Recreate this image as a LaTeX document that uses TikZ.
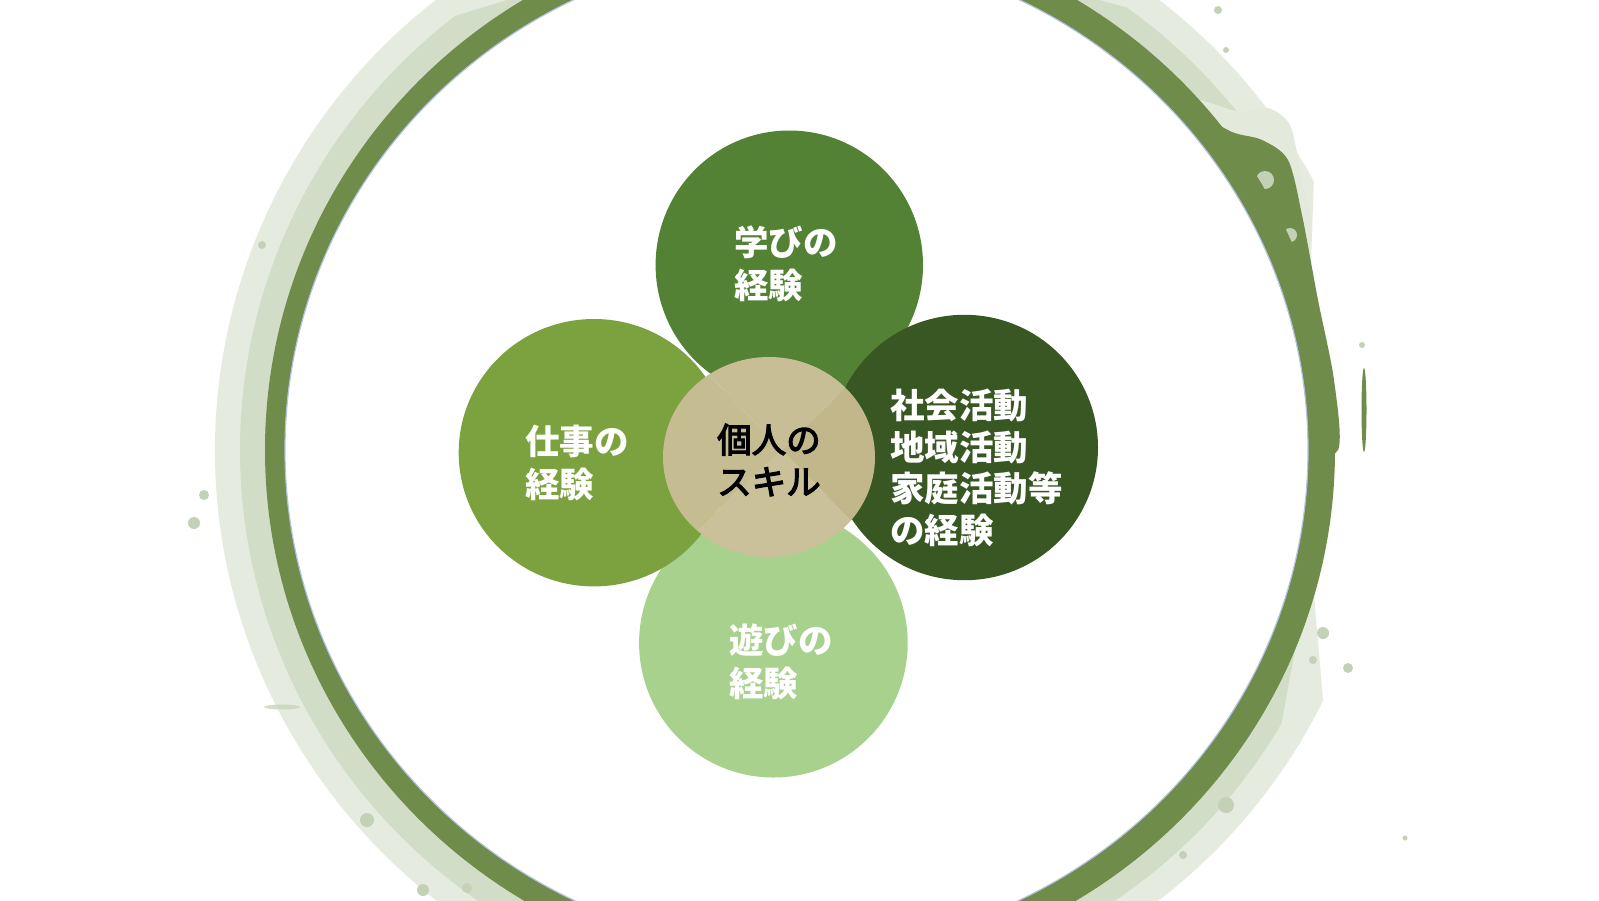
\documentclass[tikz,border=0pt]{standalone}
\usepackage{fontspec}
\newfontfamily\jp{Noto Sans CJK JP}
\newfontfamily\jpm{Noto Sans CJK JP}[FakeBold=3.5]
\usetikzlibrary{shapes.geometric}
\definecolor{ringc}{HTML}{6F8C4B}
\definecolor{washc}{HTML}{C3D1B6}
\definecolor{washl}{HTML}{E3EADC}
\definecolor{rimc}{HTML}{B4C3E3}
\definecolor{ptop}{HTML}{548235}
\definecolor{pleft}{HTML}{7BA23E}
\definecolor{pright}{HTML}{385723}
\definecolor{pbot}{HTML}{A9D18E}
\definecolor{ctop}{HTML}{C8BE95}
\definecolor{cright}{HTML}{C1B78B}
\definecolor{cbot}{HTML}{CAC099}
\definecolor{cleft}{HTML}{C6BC92}
\newcommand\washseg[9]{% style, a1, b1, Rx1, Ry1, a2, b2, Rx2, Ry2
  \fill[#1] (#2:#4pt and #5pt) arc[start angle=#2, end angle=#3, x radius=#4pt, y radius=#5pt]
    -- (#7:#8pt and #9pt) arc[start angle=#7, end angle=#6, x radius=#8pt, y radius=#9pt] -- cycle;}
\tikzset{
  petal/.style={ellipse, inner sep=0pt, draw=none},
  washband/.style={fill=washl, opacity=0.9},
  washcore/.style={fill=washc, opacity=0.55},
  spot/.style={fill=washc},
  ptext/.style={text=white, align=left, anchor=west, inner sep=0pt,
    font=\jp\bfseries\fontsize{34.5}{43}\selectfont},
  ctext/.style={text=black, align=left, anchor=west, inner sep=0pt,
    font=\jpm\fontsize{34.5}{42}\selectfont},
}
\begin{document}
\begin{tikzpicture}[x=1pt,y=-1pt]
\useasboundingbox (0,0) rectangle (1599,900);
\clip (0,0) rectangle (1599,900);
\fill[white] (0,0) rectangle (1599,900);
% soft brush washes along the outside of the ring (tapered bands)
\begin{scope}[shift={(800,450)}]
  \washseg{washband}{122}{242}{585}{575}{110}{252}{530}{521}
  \washseg{washcore}{128}{236}{560}{551}{116}{248}{530}{521}
  \washseg{washband}{58}{28}{582}{572}{68}{16}{530}{521}
  \washseg{washcore}{54}{32}{556}{547}{64}{22}{530}{521}
  \washseg{washband}{-26}{-60}{582}{572}{-14}{-72}{528}{519}
  \washseg{washcore}{-30}{-57}{556}{547}{-18}{-68}{528}{519}
\end{scope}
% spots
\fill[spot] (204,495) circle[radius=5pt];
\fill[spot] (194,523) circle[radius=6pt];
\fill[spot] (262,245) circle[radius=4pt];
\fill[spot] (367,820) circle[radius=7pt];
\fill[spot] (423,890) circle[radius=6pt];
\fill[spot] (467,888) circle[radius=5pt];
\fill[spot] (1218,10) circle[radius=4pt];
\fill[spot] (1226,50) circle[radius=3pt];
\fill[spot] (1323,633) circle[radius=6pt];
\fill[spot] (1313,660) circle[radius=4pt];
\fill[spot] (1348,668) circle[radius=5pt];
\fill[spot] (1226,805) circle[radius=8pt];
\fill[spot] (1405,838) circle[radius=2.5pt];
\fill[spot] (1183,855) circle[radius=4pt];
\fill[spot] (1362,345) circle[radius=3pt];
\fill[washc, opacity=0.7] (282,707) ellipse[x radius=18pt, y radius=2.5pt];
% the ring
\fill[washl] plot[smooth cycle] coordinates {(1190,100) (1240,112) (1268,108) (1290,125) (1300,170) (1312,230) (1300,260) (1260,200) (1215,150)};
\fill[ringc] plot[smooth cycle] coordinates {(1190,110) (1232,132) (1262,140) (1288,160) (1302,215) (1318,300) (1334,380) (1338,450) (1300,450) (1290,380) (1272,300) (1248,230) (1212,165) (1186,125)};
\fill[washc] (1265,180) circle[radius=9pt];
\fill[washc] (1290,235) circle[radius=7pt];
\fill[ringc] (1364,410) ellipse[x radius=2.5pt, y radius=42pt];
\fill[ringc, even odd rule] (800,450) ellipse[x radius=535pt, y radius=526pt] (796.5,450) ellipse[x radius=511.5pt, y radius=500pt];
\draw[rimc, line width=1.2pt, fill=white] (796.5,450) ellipse[x radius=511.5pt, y radius=500pt];
% petals (top and bottom lie under left and right)
\node[petal, fill=ptop, minimum width=267.4pt, minimum height=269pt] (ptopn) at (789.3,265) {};
\node[petal, fill=pbot, minimum width=268.6pt, minimum height=269pt] (pbotn) at (773.4,643) {};
\node[petal, fill=pleft, minimum width=270.6pt, minimum height=267.4pt] (pleftn) at (594,452.7) {};
\node[petal, fill=pright, minimum width=267.2pt, minimum height=265.4pt] (prightn) at (964.4,447.5) {};
% centre, with its four faint quarters
\begin{scope}
  \clip (782,450) -- (582,244) -- (1024,214) -- cycle;
  \fill[ctop] (769,457) ellipse[x radius=106pt, y radius=100pt];
\end{scope}
\begin{scope}
  \clip (782,450) -- (1024,214) -- (996,670) -- cycle;
  \fill[cright] (769,457) ellipse[x radius=106pt, y radius=100pt];
\end{scope}
\begin{scope}
  \clip (782,450) -- (996,670) -- (596,624) -- cycle;
  \fill[cbot] (769,457) ellipse[x radius=106pt, y radius=100pt];
\end{scope}
\begin{scope}
  \clip (782,450) -- (596,624) -- (582,244) -- cycle;
  \fill[cleft] (769,457) ellipse[x radius=106pt, y radius=100pt];
\end{scope}
\node[ellipse, minimum width=212pt, minimum height=200pt, inner sep=0pt] (centre) at (769,457) {};
% texts
\node[ptext] (t1) at (734,264) {学びの\\経験};
\node[ptext] (t2) at (525,462.5) {仕事の\\経験};
\node[ctext] (t0) at (717,460) {個人の\\スキル};
\node[ptext, font=\jp\bfseries\fontsize{34.5}{41.5}\selectfont] (t3) at (890,468) {社会活動\\地域活動\\家庭活動等\\の経験};
\node[ptext] (t4) at (729,661.5) {遊びの\\経験};
\end{tikzpicture}
\end{document}
